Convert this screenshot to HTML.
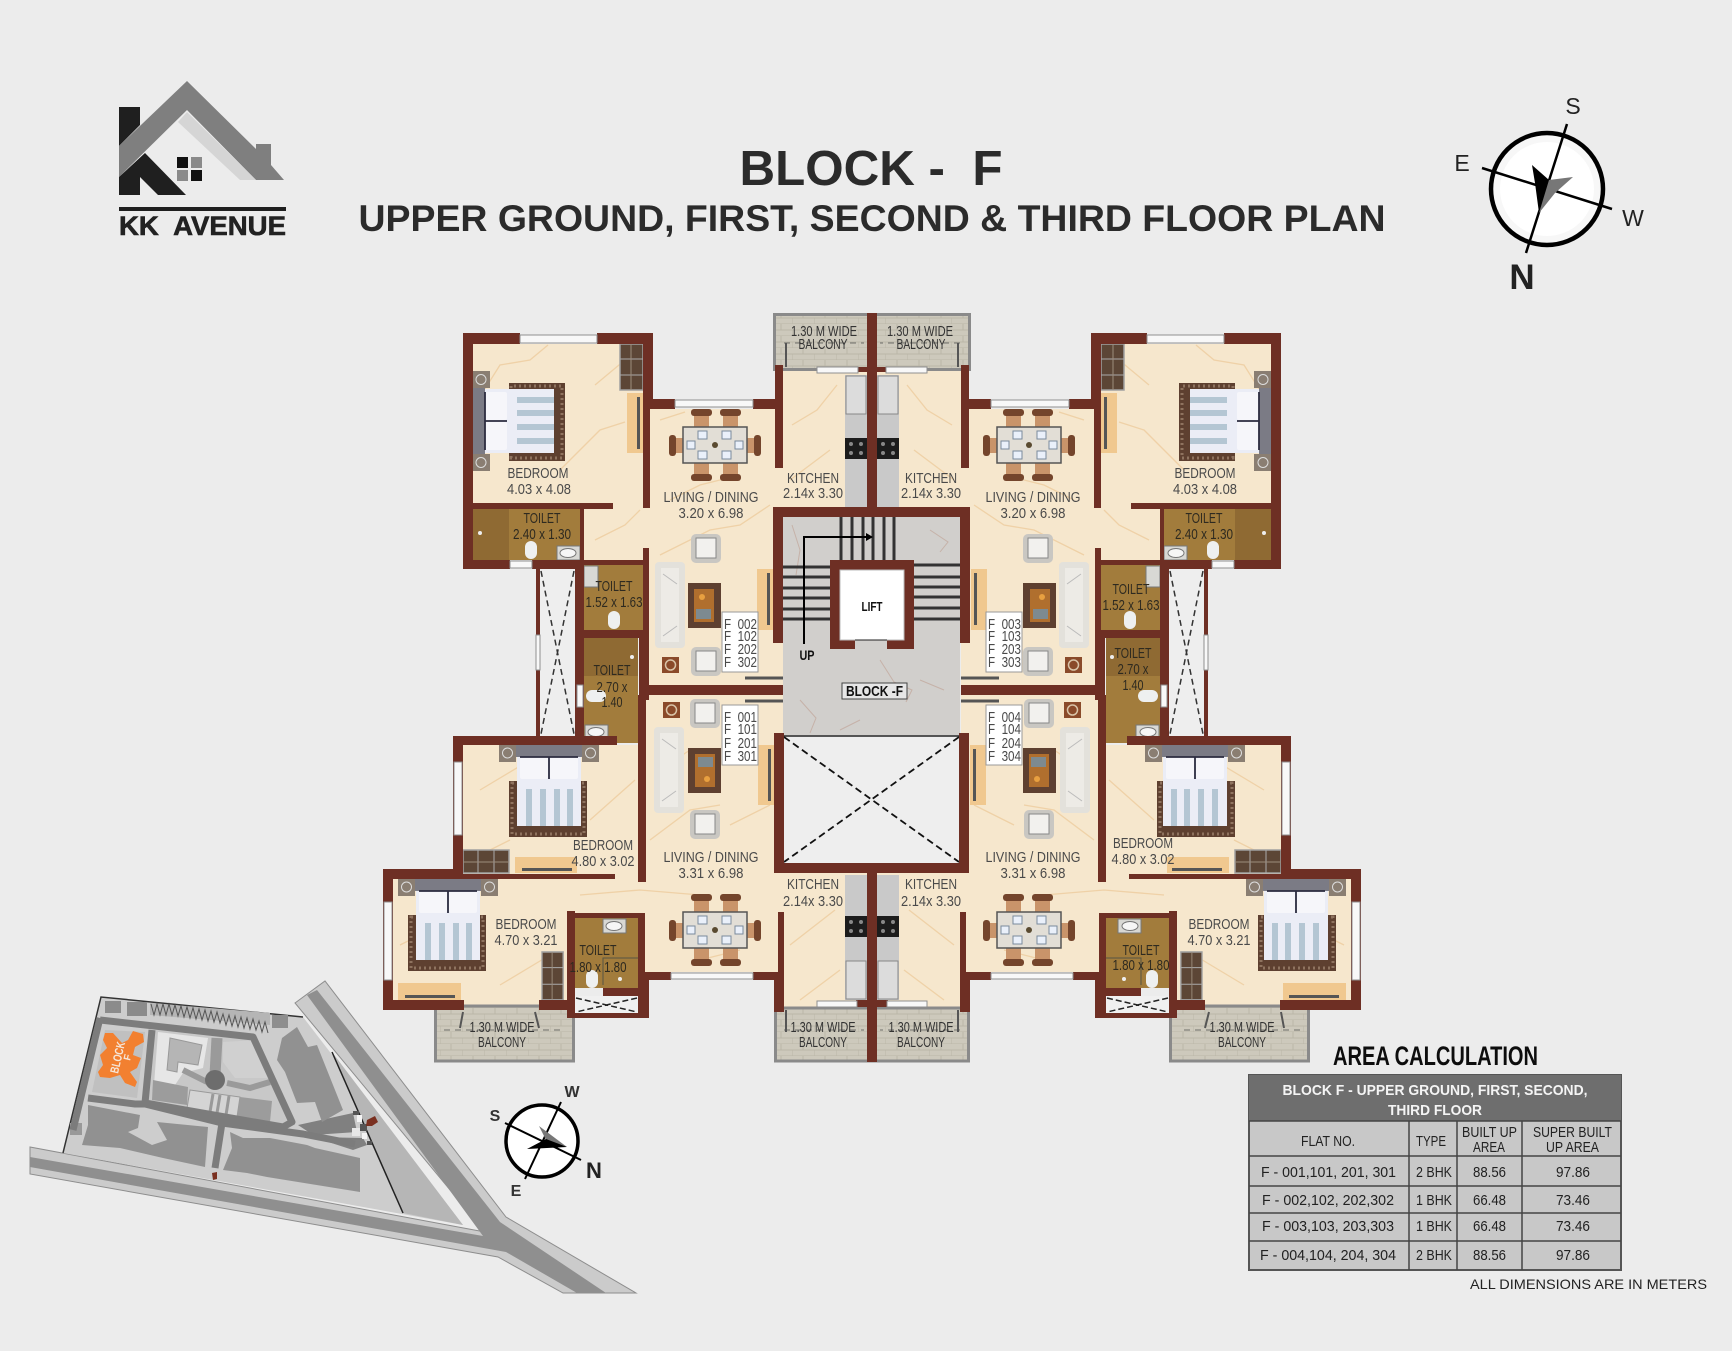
<!DOCTYPE html>
<html><head><meta charset="utf-8"><title>Block F Floor Plan</title>
<style>
html,body{margin:0;padding:0;background:#ececec}
svg{display:block}
text{font-family:"Liberation Sans",sans-serif}
.l{font-size:15px;fill:#4a4a4a;text-anchor:middle}
.f{font-size:15px;fill:#4a4a4a}
.t{font-size:15px;fill:#222;text-anchor:middle}
.b{font-weight:bold}
</style></head><body>
<svg xmlns="http://www.w3.org/2000/svg" width="1732" height="1351" viewBox="0 0 1732 1351">
<defs>
<pattern id="bk" width="22" height="12" patternUnits="userSpaceOnUse"><rect width="22" height="12" fill="#cdc9bc"/><path d="M0 6h22M0 12h22M11 0v6M0 6v6" stroke="#bab6a8" stroke-width="1" fill="none"/></pattern>
<g id="bed">
<rect x="-40" y="36" width="78" height="56" fill="#5e4030"/>
<rect x="-37" y="38" width="72" height="51" fill="none" stroke="#8f735f" stroke-width="3" stroke-dasharray="2 3"/>
<rect x="-33" y="0" width="66" height="12" fill="#7b7b85"/>
<rect x="-50" y="0" width="17" height="17" fill="#8a7e72"/><circle cx="-41.500" cy="8" r="5" fill="none" stroke="#ddd"/>
<rect x="33" y="0" width="17" height="17" fill="#8a7e72"/><circle cx="41.500" cy="8" r="5" fill="none" stroke="#ddd"/>
<rect x="-32" y="12" width="64" height="69" fill="#ebedf6"/>
<rect x="-23" y="44" width="6" height="37" fill="#b4c6d3"/><rect x="-9" y="44" width="6" height="37" fill="#b4c6d3"/><rect x="5" y="44" width="6" height="37" fill="#b4c6d3"/><rect x="18" y="44" width="6" height="37" fill="#b4c6d3"/>
<rect x="-29" y="12" width="28" height="22" rx="2" fill="#f6f6fa"/>
<rect x="1" y="12" width="28" height="22" rx="2" fill="#f6f6fa"/>
<path d="M-29 12h58M0 12v22" stroke="#2c2c40" stroke-width="1.800" fill="none"/>
</g>
<g id="din">
<g fill="#74452c"><rect x="-24" y="-36" width="21" height="7" rx="3"/><rect x="5" y="-36" width="21" height="7" rx="3"/><rect x="-24" y="29" width="21" height="7" rx="3"/><rect x="5" y="29" width="21" height="7" rx="3"/><rect x="-46" y="-10" width="7" height="21" rx="3"/><rect x="39" y="-10" width="7" height="21" rx="3"/></g>
<g fill="#c9946a"><rect x="-21" y="-29" width="15" height="11"/><rect x="8" y="-29" width="15" height="11"/><rect x="-21" y="18" width="15" height="11"/><rect x="8" y="18" width="15" height="11"/><rect x="-39" y="-7" width="7" height="15"/><rect x="32" y="-7" width="7" height="15"/></g>
<rect x="-32" y="-18" width="64" height="36" fill="#e2ded6" stroke="#555" stroke-width="1.500"/>
<g fill="#eaf0fa" stroke="#7a8a9c"><rect x="-17" y="-14" width="9" height="8"/><rect x="7" y="-14" width="9" height="8"/><rect x="-17" y="6" width="9" height="8"/><rect x="7" y="6" width="9" height="8"/><rect x="-28" y="-4" width="8" height="8"/><rect x="20" y="-4" width="8" height="8"/></g>
<circle cx="0" cy="0" r="3" fill="#5a4a30"/>
</g>
<g id="arm"><rect x="0" y="0" width="30" height="29" rx="5" fill="#c9c7c2"/><rect x="5" y="4" width="20" height="20" fill="#f2f1ee" stroke="#888"/></g>
<g id="sofa"><rect x="0" y="0" width="30" height="86" rx="4" fill="#e3e1db"/><rect x="6" y="6" width="18" height="74" fill="#edebe6"/><path d="M8 12l14 10M8 74l14-10" stroke="#bbb" fill="none"/></g>
<g id="rug"><rect x="0" y="0" width="33" height="45" fill="#5e4030"/><rect x="6" y="6" width="20" height="33" fill="#b06f2e"/><rect x="8" y="26" width="15" height="10" fill="#7d8a90"/><circle cx="14" cy="14" r="3" fill="#e8a040"/></g>
<g id="lamp"><rect x="0" y="0" width="17" height="16" fill="#8a4a2a"/><circle cx="8.500" cy="8" r="5" fill="none" stroke="#d9c4a8" stroke-width="1.500"/></g>
<g id="wc"><rect x="-6" y="-9" width="12" height="18" rx="6" fill="#eef0f0"/></g>
<g id="basin"><rect x="0" y="0" width="23" height="14" fill="#d8d8d4" stroke="#777"/><ellipse cx="11" cy="7" rx="8" ry="4.500" fill="#f6f6f6" stroke="#777"/></g>
<g id="ward"><rect x="0" y="0" width="23" height="46" fill="#5c4636" stroke="#a0a0a0" stroke-width="1.500"/><path d="M0 15h23M0 31h23" stroke="#aaa"/><path d="M11 0v46" stroke="#9c8d7c"/></g>

<g id="half">
<!-- floors -->
<polygon fill="#f6e7cd" points="473,344 643,344 643,409 775,409 775,367 867,367 867,507 783,507 783,690 643,690 643,565 584,565 584,509 473,509"/>
<polygon fill="#f6e7cd" points="463,745 646,745 646,690 783,690 783,873 867,873 867,1010 778,1010 778,972 645,972 645,913 567,913 567,1008 464,1008 464,1000 393,1000 393,879 463,879"/>
<g fill="none" stroke="#ecc99a" stroke-width="1.300" opacity=".75">
<path d="M478 400l22-35 30-5 18-15M560 470l40-40 25-8M595 385l30-25M660 420l25-8M670 500l30-15 40-10M595 540l30-15 15-15M660 555l50-25 30-5 30-20M730 640l40-20M792 425l25-15 20-25M790 480l40-30M660 770l30-20M650 840l40-30 30-5M730 825l40-20M480 790l50-30M590 820l45-40M470 860l40-20M400 945l50-25M500 985l50-30M580 895l60-5 60 5M700 960l40-10M790 945l45-35M800 1000l40-30"/>
</g>
<!-- balconies -->
<g fill="url(#bk)" stroke="#8a8a8a" stroke-width="3">
<rect x="774.500" y="314.500" width="95" height="55"/>
<rect x="435.500" y="1006" width="138" height="55"/>
<rect x="775.500" y="1008" width="95" height="53"/>
</g>
<path d="M444 1030h120M784 1030h80M784 343h80" stroke="#6f6f6a" stroke-width="1" stroke-dasharray="6 5" fill="none"/>
<path d="M463 1012l-3 16M535 1012l4 16M786 1010v22M786 343v24" stroke="#555" stroke-width="2" fill="none"/>
<!-- toilets -->
<rect x="473" y="509" width="107" height="51" fill="#a27c3c"/><rect x="473" y="509" width="36" height="51" fill="#8f6a33"/>
<rect x="584" y="565" width="59" height="65" fill="#a27c3c"/>
<rect x="584" y="638" width="54" height="105" fill="#a27c3c"/><rect x="584" y="638" width="54" height="38" fill="#8f6a33"/>
<rect x="573" y="918" width="65" height="70" fill="#a27c3c"/>
<path d="M603 985v-27h35" fill="none" stroke="#554" stroke-width="1"/>
<use href="#wc" x="531" y="550"/><use href="#wc" x="614" y="620"/>
<rect x="586" y="690" width="20" height="12" rx="6" fill="#eef0f0"/>
<use href="#wc" x="592" y="979"/>
<use href="#basin" x="557" y="546"/><rect x="584" y="566" width="14" height="21" fill="#d8d8d4" stroke="#777"/><use href="#basin" x="585" y="725"/><use href="#basin" x="603" y="919"/>
<circle cx="480" cy="533" r="2" fill="#eee"/><circle cx="632" cy="657" r="2" fill="#eee"/><circle cx="620" cy="979" r="2" fill="#eee"/>
<!-- ducts -->
<rect x="540" y="569" width="35" height="167" fill="#eeeeee"/>
<path d="M541 571l33 163M574 571l-33 163" stroke="#333" stroke-width="1.500" stroke-dasharray="6 4" fill="none"/>
<rect x="575" y="996" width="63" height="17" fill="#f0f0f0"/>
<path d="M576 998l61 14M637 998l-61 14" stroke="#222" stroke-width="1.500" stroke-dasharray="6 3" fill="none"/>
<!-- kitchen -->
<rect x="845" y="375" width="22" height="132" fill="#c9c9c9"/><rect x="845" y="875" width="22" height="125" fill="#c9c9c9"/>
<rect x="846" y="376" width="20" height="38" fill="#dcdcdc" stroke="#888"/><rect x="846" y="961" width="20" height="38" fill="#dcdcdc" stroke="#888"/>
<rect x="845" y="438" width="22" height="21" fill="#1c1c1c"/><rect x="845" y="916" width="22" height="21" fill="#1c1c1c"/>
<g fill="#888"><circle cx="851" cy="444" r="2"/><circle cx="861" cy="444" r="2"/><circle cx="851" cy="453" r="2"/><circle cx="861" cy="453" r="2"/><circle cx="851" cy="922" r="2"/><circle cx="861" cy="922" r="2"/><circle cx="851" cy="931" r="2"/><circle cx="861" cy="931" r="2"/></g>
<!-- furniture -->
<use href="#bed" transform="translate(473,421) rotate(-90)"/>
<use href="#bed" transform="translate(549,745)"/>
<use href="#bed" transform="translate(448,879)"/>
<use href="#din" x="715" y="445"/><use href="#din" x="715" y="930"/>
<use href="#arm" x="691" y="534"/><use href="#arm" x="691" y="647"/><use href="#arm" x="690" y="699"/><use href="#arm" x="690" y="810"/>
<use href="#sofa" x="655" y="562"/><use href="#sofa" x="654" y="727"/>
<use href="#rug" x="688" y="583"/><use href="#rug" transform="translate(721,793) rotate(180)"/>
<use href="#lamp" x="662" y="657"/><use href="#lamp" x="663" y="702"/>
<use href="#ward" x="620" y="344"/>
<use href="#ward" transform="translate(463,873) rotate(-90)"/>
<use href="#ward" transform="translate(542,952) scale(.92,1.040)"/>
<g fill="#f0c88f">
<rect x="627" y="393" width="16" height="60"/><rect x="757" y="569" width="16" height="61"/><rect x="758" y="745" width="16" height="60"/><rect x="515" y="857" width="62" height="16"/><rect x="398" y="983" width="63" height="17"/>
</g>
<g fill="#555"><rect x="637" y="397" width="3" height="52"/><rect x="767" y="573" width="3" height="52"/><rect x="768" y="749" width="3" height="52"/><rect x="522" y="868" width="50" height="3"/><rect x="405" y="995" width="50" height="3"/></g>
<!-- F boxes -->
<rect x="722" y="612" width="36" height="60" fill="#fff" stroke="#999"/>
<rect x="722" y="705" width="36" height="60" fill="#fff" stroke="#999"/>
<!-- walls -->
<g fill="#6e2f24">
<rect x="463" y="333" width="10" height="236"/><rect x="463" y="333" width="57" height="11"/><rect x="597" y="333" width="56" height="11"/>
<rect x="643" y="333" width="10" height="66"/><rect x="643" y="399" width="32" height="10"/><rect x="753" y="399" width="30" height="10"/>
<rect x="643" y="399" width="7" height="109"/><rect x="775" y="365" width="8" height="103"/>
<rect x="473" y="503" width="107" height="6"/><rect x="580" y="503" width="33" height="6"/><rect x="580" y="503" width="4" height="57"/>
<rect x="463" y="560" width="47" height="9"/><rect x="532" y="560" width="111" height="5"/><rect x="532" y="560" width="52" height="9"/>
<rect x="575" y="565" width="9" height="172"/><rect x="536" y="569" width="4" height="167"/>
<rect x="584" y="630" width="55" height="8"/><rect x="643" y="548" width="6" height="85"/><rect x="639" y="630" width="10" height="70"/>
<rect x="643" y="685" width="140" height="10"/><rect x="638" y="695" width="8" height="187"/>
<rect x="453" y="736" width="164" height="9"/><rect x="453" y="736" width="10" height="137"/>
<rect x="383" y="869" width="80" height="10"/><rect x="463" y="874" width="152" height="5"/><rect x="383" y="869" width="10" height="141"/>
<rect x="383" y="1000" width="81" height="10"/><rect x="539" y="1000" width="36" height="10"/>
<rect x="567" y="911" width="8" height="106"/><rect x="570" y="913" width="75" height="5"/>
<rect x="638" y="913" width="7" height="60"/><rect x="638" y="972" width="11" height="46"/>
<rect x="645" y="972" width="26" height="8"/><rect x="753" y="972" width="27" height="8"/>
<rect x="603" y="988" width="36" height="8"/><rect x="567" y="1013" width="82" height="5"/>
<rect x="778" y="912" width="6" height="60"/><rect x="774" y="972" width="10" height="40"/>
<rect x="867" y="313" width="5" height="194"/><rect x="867" y="873" width="5" height="189"/>
<rect x="845" y="367" width="27" height="5"/><rect x="856" y="1000" width="16" height="7"/>
</g>
<!-- windows -->
<g fill="#f8f8f8" stroke="#8f8f8f" stroke-width="1">
<rect x="520" y="335" width="77" height="8"/><rect x="675" y="400" width="78" height="7"/><rect x="817" y="367" width="41" height="6"/><rect x="510" y="561" width="22" height="7"/>
<rect x="454" y="762" width="8" height="73"/><rect x="384" y="902" width="8" height="78"/><rect x="671" y="973" width="82" height="6"/><rect x="817" y="1001" width="40" height="6"/><rect x="536" y="635" width="4" height="35"/><rect x="577" y="685" width="6" height="22"/>
</g>
<path d="M745 678h38M745 701h38" stroke="#555" stroke-width="3" fill="none"/>
</g>
</defs>

<rect width="1732" height="1351" fill="#ececec"/>

<!-- Logo -->
<polygon fill="#1f1f1f" points="119,107 140,107 140,125 119,146"/>
<polygon fill="#7f7f7f" points="119,146 187,81 256,149 256,144 271,144 271,165 284,180 256,180 187,110 119,177"/>
<polygon fill="#d5d5d5" points="187,112 256,180 240,180 178,122"/>
<polygon fill="#1f1f1f" points="119,177 145,153 186,195 158,195 140,177 140,195 119,195"/>
<rect x="177" y="157" width="11" height="11" fill="#111"/><rect x="191" y="157" width="11" height="11" fill="#8a8a8a"/><rect x="177" y="170" width="11" height="11" fill="#8a8a8a"/><rect x="191" y="170" width="11" height="11" fill="#111"/>
<rect x="119" y="207" width="167" height="4" fill="#1f1f1f"/>
<text x="119" y="235" font-size="27" font-weight="bold" fill="#222" stroke="#222" stroke-width=".6" textLength="167" lengthAdjust="spacingAndGlyphs" xml:space="preserve">KK  AVENUE</text>

<!-- Title -->
<text x="871" y="185" text-anchor="middle" font-size="49" font-weight="bold" fill="#2b2b2b" textLength="263" lengthAdjust="spacingAndGlyphs" xml:space="preserve">BLOCK -  F</text>
<text x="872" y="231" text-anchor="middle" font-size="37" font-weight="bold" fill="#2b2b2b" textLength="1027" lengthAdjust="spacingAndGlyphs">UPPER GROUND, FIRST, SECOND &amp; THIRD FLOOR PLAN</text>

<!-- Compass main -->
<circle cx="1547" cy="189" r="56" fill="#f7f7f7" stroke="#000" stroke-width="4.500"/>
<circle cx="1547" cy="189" r="47" fill="#fff"/>
<path d="M1567 124L1526 253M1482 168L1612 209" stroke="#000" stroke-width="2.500"/>
<polygon fill="#000" points="1532,165 1549,180 1539,213 1535,183"/>
<polygon fill="#777" points="1573,177 1555,193 1539,213 1549,180"/>
<text x="1573" y="114" text-anchor="middle" font-size="23" fill="#222">S</text>
<text x="1462" y="171" text-anchor="middle" font-size="23" fill="#222">E</text>
<text x="1633" y="226" text-anchor="middle" font-size="23" fill="#222">W</text>
<text x="1522" y="289" text-anchor="middle" font-size="35" font-weight="bold" fill="#222">N</text>

<!-- Floor plan -->
<use href="#half"/>
<use href="#half" transform="matrix(-1 0 0 1 1744 0)"/>

<!-- Core -->
<rect x="783" y="517" width="177" height="218" fill="#d1cfcc"/>
<g fill="none" stroke="#c4aea4" stroke-width="1" opacity=".9"><path d="M792 525l8 25-4 25M930 530l18 12-8 10M880 660l14 22 18 8-6 12M800 700l16 18-6 15M920 680l24 10M860 720l-20 10"/></g>
<rect x="783" y="736" width="177" height="127" fill="#eeeeee"/>
<path d="M784 737L959 862M959 737L784 862" stroke="#111" stroke-width="1.800" stroke-dasharray="7 4" fill="none"/>
<path d="M783 736H960" stroke="#222" stroke-width="1.500"/>
<g stroke="#333" stroke-width="3">
<path d="M841 517v43M852 517v43M863 517v43M873 517v43M884 517v43M894 517v43"/>
<path d="M783 567h47M783 577h47M783 588h47M783 598h47M783 609h47M783 619h47M914 565h46M914 577h46M914 587h46M914 597h46M914 608h46M914 619h46"/>
</g>
<g fill="#6e2f24">
<rect x="773" y="507" width="197" height="10"/><rect x="773" y="507" width="10" height="136"/><rect x="960" y="507" width="10" height="136"/>
<rect x="774" y="733" width="10" height="140"/><rect x="959" y="733" width="10" height="140"/><rect x="774" y="863" width="195" height="10"/>
<rect x="830" y="560" width="84" height="89"/>
</g>
<rect x="840" y="570" width="64" height="70" fill="#fff" stroke="#bbb"/>
<rect x="855" y="640" width="32" height="9" fill="#d1cfcc"/><path d="M855 640h32" stroke="#222" stroke-width="1"/>
<path d="M804 644V537H868" fill="none" stroke="#000" stroke-width="2"/><polygon points="866,533 873,537 866,541" fill="#000"/>
<text x="872" y="611" class="t b" textLength="21" lengthAdjust="spacingAndGlyphs" style="font-size:13px;fill:#111">LIFT</text>
<text x="807" y="660" class="t b" style="font-size:14px;fill:#111" textLength="15" lengthAdjust="spacingAndGlyphs">UP</text>
<rect x="842" y="683" width="65" height="16" fill="#e6e6e6" stroke="#444"/>
<text x="874.500" y="696" class="t b" style="font-size:15px;fill:#111" textLength="57" lengthAdjust="spacingAndGlyphs" xml:space="preserve">BLOCK -F</text>

<!-- Labels left -->
<text class="l" x="538" y="478" textLength="61" lengthAdjust="spacingAndGlyphs">BEDROOM</text><text class="l" x="539" y="494" textLength="64" lengthAdjust="spacingAndGlyphs">4.03 x 4.08</text>
<text class="l" x="542" y="523" textLength="37" lengthAdjust="spacingAndGlyphs" style="fill:#2e2a20">TOILET</text><text class="l" x="542" y="539" textLength="58" lengthAdjust="spacingAndGlyphs" style="fill:#2e2a20">2.40 x 1.30</text>
<text class="l" x="711" y="502" textLength="95" lengthAdjust="spacingAndGlyphs">LIVING / DINING</text><text class="l" x="711" y="518" textLength="65" lengthAdjust="spacingAndGlyphs">3.20 x 6.98</text>
<text class="l" x="813" y="483" textLength="52" lengthAdjust="spacingAndGlyphs">KITCHEN</text><text class="l" x="813" y="498" textLength="60" lengthAdjust="spacingAndGlyphs">2.14x 3.30</text>
<text class="l" x="824" y="336" textLength="66" lengthAdjust="spacingAndGlyphs" style="fill:#333">1.30 M WIDE</text><text class="l" x="823" y="349" textLength="49" lengthAdjust="spacingAndGlyphs" style="fill:#333">BALCONY</text>
<text class="l" x="614" y="591" textLength="37" lengthAdjust="spacingAndGlyphs" style="fill:#2e2a20">TOILET</text><text class="l" x="614" y="607" textLength="57" lengthAdjust="spacingAndGlyphs" style="fill:#2e2a20">1.52 x 1.63</text>
<text class="l" x="612" y="675" textLength="37" lengthAdjust="spacingAndGlyphs" style="fill:#2e2a20">TOILET</text><text class="l" x="612" y="692" textLength="31" lengthAdjust="spacingAndGlyphs" style="fill:#2e2a20">2.70 x</text><text class="l" x="612" y="707" textLength="21" lengthAdjust="spacingAndGlyphs" style="fill:#2e2a20">1.40</text>
<text class="f" x="724" y="629" textLength="33" lengthAdjust="spacingAndGlyphs">F&#160;&#160;002</text><text class="f" x="724" y="641" textLength="33" lengthAdjust="spacingAndGlyphs">F&#160;&#160;102</text><text class="f" x="724" y="654" textLength="33" lengthAdjust="spacingAndGlyphs">F&#160;&#160;202</text><text class="f" x="724" y="667" textLength="33" lengthAdjust="spacingAndGlyphs">F&#160;&#160;302</text>
<text class="f" x="724" y="722" textLength="33" lengthAdjust="spacingAndGlyphs">F&#160;&#160;001</text><text class="f" x="724" y="734" textLength="33" lengthAdjust="spacingAndGlyphs">F&#160;&#160;101</text><text class="f" x="724" y="748" textLength="33" lengthAdjust="spacingAndGlyphs">F&#160;&#160;201</text><text class="f" x="724" y="761" textLength="33" lengthAdjust="spacingAndGlyphs">F&#160;&#160;301</text>
<text class="l" x="603" y="850" textLength="60" lengthAdjust="spacingAndGlyphs">BEDROOM</text><text class="l" x="603" y="866" textLength="63" lengthAdjust="spacingAndGlyphs">4.80 x 3.02</text>
<text class="l" x="526" y="929" textLength="61" lengthAdjust="spacingAndGlyphs">BEDROOM</text><text class="l" x="526" y="945" textLength="63" lengthAdjust="spacingAndGlyphs">4.70 x 3.21</text>
<text class="l" x="711" y="862" textLength="95" lengthAdjust="spacingAndGlyphs">LIVING / DINING</text><text class="l" x="711" y="878" textLength="65" lengthAdjust="spacingAndGlyphs">3.31 x 6.98</text>
<text class="l" x="813" y="889" textLength="52" lengthAdjust="spacingAndGlyphs">KITCHEN</text><text class="l" x="813" y="906" textLength="60" lengthAdjust="spacingAndGlyphs">2.14x 3.30</text>
<text class="l" x="598" y="955" textLength="37" lengthAdjust="spacingAndGlyphs" style="fill:#2e2a20">TOILET</text><text class="l" x="598" y="972" textLength="57" lengthAdjust="spacingAndGlyphs" style="fill:#2e2a20">1.80 x 1.80</text>
<text class="l" x="502" y="1032" textLength="65" lengthAdjust="spacingAndGlyphs" style="fill:#333">1.30 M WIDE</text><text class="l" x="502" y="1047" textLength="48" lengthAdjust="spacingAndGlyphs" style="fill:#333">BALCONY</text>
<text class="l" x="823" y="1032" textLength="65" lengthAdjust="spacingAndGlyphs" style="fill:#333">1.30 M WIDE</text><text class="l" x="823" y="1047" textLength="48" lengthAdjust="spacingAndGlyphs" style="fill:#333">BALCONY</text>

<!-- Labels right -->
<text class="l" x="1205" y="478" textLength="61" lengthAdjust="spacingAndGlyphs">BEDROOM</text><text class="l" x="1205" y="494" textLength="64" lengthAdjust="spacingAndGlyphs">4.03 x 4.08</text>
<text class="l" x="1204" y="523" textLength="37" lengthAdjust="spacingAndGlyphs" style="fill:#2e2a20">TOILET</text><text class="l" x="1204" y="539" textLength="58" lengthAdjust="spacingAndGlyphs" style="fill:#2e2a20">2.40 x 1.30</text>
<text class="l" x="1033" y="502" textLength="95" lengthAdjust="spacingAndGlyphs">LIVING / DINING</text><text class="l" x="1033" y="518" textLength="65" lengthAdjust="spacingAndGlyphs">3.20 x 6.98</text>
<text class="l" x="931" y="483" textLength="52" lengthAdjust="spacingAndGlyphs">KITCHEN</text><text class="l" x="931" y="498" textLength="60" lengthAdjust="spacingAndGlyphs">2.14x 3.30</text>
<text class="l" x="920" y="336" textLength="66" lengthAdjust="spacingAndGlyphs" style="fill:#333">1.30 M WIDE</text><text class="l" x="921" y="349" textLength="49" lengthAdjust="spacingAndGlyphs" style="fill:#333">BALCONY</text>
<text class="l" x="1131" y="594" textLength="37" lengthAdjust="spacingAndGlyphs" style="fill:#2e2a20">TOILET</text><text class="l" x="1131" y="610" textLength="57" lengthAdjust="spacingAndGlyphs" style="fill:#2e2a20">1.52 x 1.63</text>
<text class="l" x="1133" y="658" textLength="37" lengthAdjust="spacingAndGlyphs" style="fill:#2e2a20">TOILET</text><text class="l" x="1133" y="674" textLength="31" lengthAdjust="spacingAndGlyphs" style="fill:#2e2a20">2.70 x</text><text class="l" x="1133" y="690" textLength="21" lengthAdjust="spacingAndGlyphs" style="fill:#2e2a20">1.40</text>
<text class="f" x="988" y="629" textLength="33" lengthAdjust="spacingAndGlyphs">F&#160;&#160;003</text><text class="f" x="988" y="641" textLength="33" lengthAdjust="spacingAndGlyphs">F&#160;&#160;103</text><text class="f" x="988" y="654" textLength="33" lengthAdjust="spacingAndGlyphs">F&#160;&#160;203</text><text class="f" x="988" y="667" textLength="33" lengthAdjust="spacingAndGlyphs">F&#160;&#160;303</text>
<text class="f" x="988" y="722" textLength="33" lengthAdjust="spacingAndGlyphs">F&#160;&#160;004</text><text class="f" x="988" y="734" textLength="33" lengthAdjust="spacingAndGlyphs">F&#160;&#160;104</text><text class="f" x="988" y="748" textLength="33" lengthAdjust="spacingAndGlyphs">F&#160;&#160;204</text><text class="f" x="988" y="761" textLength="33" lengthAdjust="spacingAndGlyphs">F&#160;&#160;304</text>
<text class="l" x="1143" y="848" textLength="60" lengthAdjust="spacingAndGlyphs">BEDROOM</text><text class="l" x="1143" y="864" textLength="63" lengthAdjust="spacingAndGlyphs">4.80 x 3.02</text>
<text class="l" x="1219" y="929" textLength="61" lengthAdjust="spacingAndGlyphs">BEDROOM</text><text class="l" x="1219" y="945" textLength="63" lengthAdjust="spacingAndGlyphs">4.70 x 3.21</text>
<text class="l" x="1033" y="862" textLength="95" lengthAdjust="spacingAndGlyphs">LIVING / DINING</text><text class="l" x="1033" y="878" textLength="65" lengthAdjust="spacingAndGlyphs">3.31 x 6.98</text>
<text class="l" x="931" y="889" textLength="52" lengthAdjust="spacingAndGlyphs">KITCHEN</text><text class="l" x="931" y="906" textLength="60" lengthAdjust="spacingAndGlyphs">2.14x 3.30</text>
<text class="l" x="1141" y="955" textLength="37" lengthAdjust="spacingAndGlyphs" style="fill:#2e2a20">TOILET</text><text class="l" x="1141" y="970" textLength="57" lengthAdjust="spacingAndGlyphs" style="fill:#2e2a20">1.80 x 1.80</text>
<text class="l" x="1242" y="1032" textLength="65" lengthAdjust="spacingAndGlyphs" style="fill:#333">1.30 M WIDE</text><text class="l" x="1242" y="1047" textLength="48" lengthAdjust="spacingAndGlyphs" style="fill:#333">BALCONY</text>
<text class="l" x="921" y="1032" textLength="65" lengthAdjust="spacingAndGlyphs" style="fill:#333">1.30 M WIDE</text><text class="l" x="921" y="1047" textLength="48" lengthAdjust="spacingAndGlyphs" style="fill:#333">BALCONY</text>

<!-- Site map -->
<polygon fill="#cbcbcb" stroke="#8d8d8d" points="295,1003 325,981 506,1217 636,1293 563,1293 498,1257 30,1174 30,1147 485,1232"/>
<polygon fill="#8f8f8f" points="30,1157 483,1236 307,995 317,990 500,1222 606,1293 577,1293 506,1252 30,1167"/>
<polygon fill="#cdcdcd" points="101,997 303,1017 463,1225 63,1153"/>
<path d="M63 1153L101 997L303 1017" fill="none" stroke="#333" stroke-width="1.500"/>
<polygon fill="#b6b6b6" points="332,1052 463,1225 403,1213"/>
<path d="M332,1052L403,1213" stroke="#222" stroke-width="1.500"/>
<rect x="105" y="1001" width="16" height="12" fill="#8b8b8b"/><rect x="127" y="1002" width="20" height="14" fill="#8b8b8b"/>
<polygon points="150,1003 270,1013 270,1025 150,1015" fill="#b5b5b5"/>
<path d="M151 1004l3 11l3-11l3 11l3-11l3 11l3-11l3 11l3-10l3 11l3-10l3 11l3-10l3 11l3-10l3 11l3-10l3 11l3-10l3 11l3-10l3 11l3-10l3 11l3-9l3 11l3-10l3 11l3-10l3 11l3-10l3 11l3-10l3 11l3-10l3 11l3-9l3 11l3-10l3 11" fill="none" stroke="#555"/>
<rect x="272" y="1015" width="16" height="13" fill="#8e8e8e"/>
<rect x="70" y="1123" width="12" height="12" fill="#999"/>
<!-- plot land -->
<polygon fill="#c0c0c0" points="105,1030 145,1032 137,1098 92,1092"/>
<polygon fill="#c8c8c8" points="152,1030 253,1037 292,1122 283,1127 145,1103"/>
<polygon fill="#e6e6e6" points="158,1032 208,1038 203,1068 183,1073 175,1085 153,1098"/>
<polygon fill="#b5b5b5" stroke="#999" points="170,1038 202,1045 198,1065 178,1062 177,1072 167,1070"/>
<polygon fill="#d0d0d0" points="223,1042 258,1040 270,1078 235,1078 223,1062"/>
<polygon fill="#9c9c9c" points="153,1080 188,1087 187,1105 152,1100"/>
<polygon fill="#d4d4d4" stroke="#999" points="190,1090 240,1097 237,1117 187,1108"/>
<path d="M213 1094l-3 18M220 1095l-3 18M229 1096l-3 19" stroke="#999" stroke-width="3"/>
<polygon fill="#9c9c9c" points="240,1097 272,1101 270,1122 237,1117"/>
<path d="M217 1038L215 1075" stroke="#9a9a9a" stroke-width="11"/>
<path d="M183 1070L207 1082M227 1083L250 1088L270 1082" stroke="#9a9a9a" stroke-width="6" fill="none"/>
<circle cx="215" cy="1080" r="10" fill="#6d6d6d"/>
<!-- internal roads -->
<polygon fill="#808080" points="298,1125 353,1113 357,1132 313,1135"/>
<polygon fill="#808080" points="313,1137 363,1138 367,1145 353,1150"/>
<g fill="none" stroke="#7c7c7c" stroke-width="7" stroke-linejoin="round">
<path d="M100 1020L253 1037L292 1122L283 1127L145 1103L152 1030"/>
<path d="M100 1018L73 1130"/>
<path d="M88 1098L135 1104L145 1104"/>
<path d="M145 1104L222 1123L303 1134L355 1144"/>
<path d="M222 1123L215 1168"/>
</g>
<g fill="#919191">
<polygon points="88,1105 140,1115 138,1128 128,1132 152,1145 167,1140 157,1122 208,1127 205,1167 163,1158 120,1148 82,1145 88,1125"/>
<polygon points="230,1132 243,1138 270,1138 307,1145 315,1148 360,1158 360,1192 267,1177 247,1173 223,1170 232,1148"/>
<polygon points="297,1027 308,1047 317,1045 343,1110 322,1122 315,1102 297,1103 290,1085 285,1072 277,1060 282,1038"/>
</g>
<polygon fill="#f28030" points="105,1033 113,1033 122,1043 128,1040 133,1031 143,1034 144,1042 135,1047 133,1055 141,1058 137,1068 130,1072 137,1082 135,1087 125,1083 120,1075 110,1078 100,1077 98,1072 103,1065 100,1055 107,1048 103,1040"/>
<text transform="translate(118,1074) rotate(-77)" font-size="12" font-weight="bold" fill="#f6e6d8" textLength="32" lengthAdjust="spacingAndGlyphs">BLOCK</text>
<text transform="translate(130,1061) rotate(-77)" font-size="10" font-weight="bold" fill="#f6e6d8">F</text>
<rect x="353" y="1111" width="6" height="4" fill="#555"/><rect x="360" y="1124" width="7" height="7" fill="#555"/><rect x="367" y="1141" width="5" height="4" fill="#555"/>
<rect x="357" y="1115" width="5" height="7" fill="#f4f4f4"/><rect x="352" y="1128" width="8" height="8" fill="#e8e8e8"/><rect x="362" y="1133" width="5" height="6" fill="#f4f4f4"/>
<polygon fill="#7a3020" points="367,1120 375,1116 378,1122 372,1126 366,1126"/>
<polygon fill="#7a3020" points="212,1173 217,1172 217,1179 213,1180"/>

<!-- Small compass -->
<circle cx="542" cy="1141" r="36" fill="#fff" stroke="#000" stroke-width="3.500"/>
<path d="M561 1102L525 1179M505 1123L581 1160" stroke="#000" stroke-width="2"/>
<polygon fill="#777" points="539,1126 567,1147 546,1140 550,1148"/>
<polygon fill="#000" points="527,1149 546,1139 567,1147"/>
<text x="572" y="1097" text-anchor="middle" font-size="16" font-weight="bold" fill="#333">W</text>
<text x="495" y="1121" text-anchor="middle" font-size="16" font-weight="bold" fill="#333">S</text>
<text x="516" y="1196" text-anchor="middle" font-size="16" font-weight="bold" fill="#333">E</text>
<text x="594" y="1178" text-anchor="middle" font-size="22" font-weight="bold" fill="#222">N</text>

<!-- Table -->
<text x="1435.500" y="1065" text-anchor="middle" font-size="27" font-weight="bold" fill="#0d0d0d" textLength="205" lengthAdjust="spacingAndGlyphs">AREA CALCULATION</text>
<rect x="1249" y="1075" width="372" height="195" fill="#c8c8c8" stroke="#555" stroke-width="2"/>
<rect x="1249" y="1075" width="372" height="46" fill="#6e6e6e"/>
<path d="M1249 1121H1621M1249 1156H1621M1249 1186H1621M1249 1213H1621M1249 1241H1621M1409 1121V1270M1457 1121V1270M1522 1121V1270" stroke="#444" stroke-width="1.500" fill="none"/>
<text class="t b" x="1435" y="1095" style="fill:#f4f4f4;font-size:15px" textLength="305" lengthAdjust="spacingAndGlyphs">BLOCK F - UPPER GROUND, FIRST, SECOND,</text>
<text class="t b" x="1435" y="1115" style="fill:#f4f4f4;font-size:15px" textLength="94" lengthAdjust="spacingAndGlyphs">THIRD FLOOR</text>
<text class="t" x="1328" y="1146" textLength="54" lengthAdjust="spacingAndGlyphs">FLAT NO.</text>
<text class="t" x="1431" y="1146" textLength="30" lengthAdjust="spacingAndGlyphs">TYPE</text>
<text class="t" x="1489.500" y="1137" textLength="55" lengthAdjust="spacingAndGlyphs">BUILT UP</text><text class="t" x="1489" y="1152" textLength="32" lengthAdjust="spacingAndGlyphs">AREA</text>
<text class="t" x="1572.500" y="1137" textLength="79" lengthAdjust="spacingAndGlyphs">SUPER BUILT</text><text class="t" x="1572.500" y="1152" textLength="53" lengthAdjust="spacingAndGlyphs">UP AREA</text>
<text class="t" x="1328.500" y="1177" textLength="135" lengthAdjust="spacingAndGlyphs">F - 001,101, 201, 301</text><text class="t" x="1434" y="1177" textLength="36" lengthAdjust="spacingAndGlyphs">2 BHK</text><text class="t" x="1489.500" y="1177" textLength="33" lengthAdjust="spacingAndGlyphs">88.56</text><text class="t" x="1573" y="1177" textLength="34" lengthAdjust="spacingAndGlyphs">97.86</text>
<text class="t" x="1328" y="1205" textLength="132" lengthAdjust="spacingAndGlyphs">F - 002,102, 202,302</text><text class="t" x="1434" y="1205" textLength="36" lengthAdjust="spacingAndGlyphs">1 BHK</text><text class="t" x="1489.500" y="1205" textLength="33" lengthAdjust="spacingAndGlyphs">66.48</text><text class="t" x="1573" y="1205" textLength="34" lengthAdjust="spacingAndGlyphs">73.46</text>
<text class="t" x="1328" y="1231" textLength="132" lengthAdjust="spacingAndGlyphs">F - 003,103, 203,303</text><text class="t" x="1434" y="1231" textLength="36" lengthAdjust="spacingAndGlyphs">1 BHK</text><text class="t" x="1489.500" y="1231" textLength="33" lengthAdjust="spacingAndGlyphs">66.48</text><text class="t" x="1573" y="1231" textLength="34" lengthAdjust="spacingAndGlyphs">73.46</text>
<text class="t" x="1328" y="1260" textLength="136" lengthAdjust="spacingAndGlyphs">F - 004,104, 204, 304</text><text class="t" x="1434" y="1260" textLength="36" lengthAdjust="spacingAndGlyphs">2 BHK</text><text class="t" x="1489.500" y="1260" textLength="33" lengthAdjust="spacingAndGlyphs">88.56</text><text class="t" x="1573" y="1260" textLength="34" lengthAdjust="spacingAndGlyphs">97.86</text>
<text x="1470" y="1289" font-size="14" fill="#222" textLength="237" lengthAdjust="spacingAndGlyphs">ALL DIMENSIONS ARE IN METERS</text>
</svg>
</body></html>
